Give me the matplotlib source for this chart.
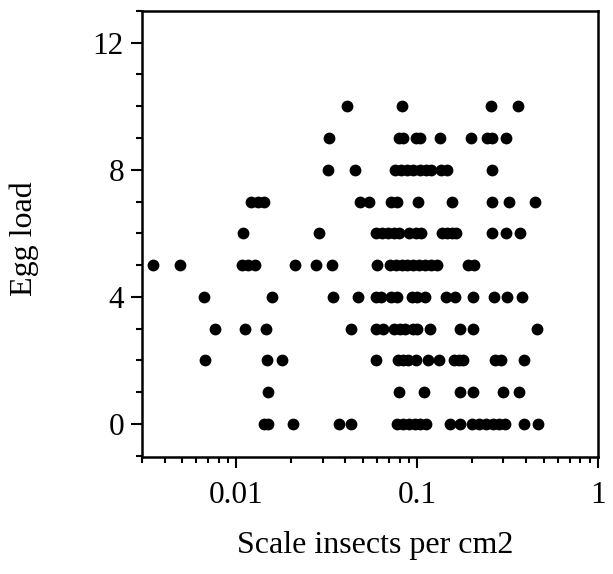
import matplotlib
matplotlib.use("Agg")
import matplotlib.pyplot as plt
from matplotlib.ticker import LogLocator, NullFormatter, MultipleLocator

plt.rcParams['font.family'] = ['Liberation Serif', 'DejaVu Serif']

# scale insect density (x) for each egg load (y)
egg0 = [0.01416, 0.01486, 0.0206, 0.0369, 0.043, 0.0771, 0.0832, 0.0896, 0.0966,
        0.1041, 0.1122, 0.1513, 0.173, 0.2021, 0.22, 0.239, 0.262, 0.2823, 0.304,
        0.3905, 0.465]
egg1 = [0.01486, 0.0791, 0.1094, 0.1714, 0.204, 0.2997, 0.3678]
egg2 = [0.00669, 0.01472, 0.01788, 0.0592, 0.0779, 0.0832, 0.0887, 0.099, 0.115,
        0.132, 0.159, 0.1697, 0.180, 0.2686, 0.292, 0.3905]
egg3 = [0.00758, 0.01114, 0.01451, 0.043, 0.0595, 0.0648, 0.0741, 0.0799, 0.0861,
        0.0942, 0.1, 0.1179, 0.1714, 0.204, 0.460]
egg4 = [0.00659, 0.01563, 0.0342, 0.0469, 0.0589, 0.0632, 0.0716, 0.0771, 0.0933,
        0.1, 0.1105, 0.1439, 0.1615, 0.204, 0.266, 0.312, 0.381]
egg5 = [0.00345, 0.00486, 0.01075, 0.01159, 0.01268, 0.0211, 0.0277, 0.0339, 0.0601,
        0.0705, 0.076, 0.0819, 0.0883, 0.0951, 0.1025, 0.1105, 0.119, 0.1283,
        0.1913, 0.207]
egg6 = [0.01091, 0.0287, 0.0595, 0.0641, 0.0691, 0.0741, 0.0791, 0.0905, 0.098,
        0.1051, 0.137, 0.146, 0.155, 0.1647, 0.258, 0.309, 0.371]
egg7 = [0.01206, 0.01313, 0.01416, 0.048, 0.0544, 0.0716, 0.0771, 0.1015, 0.155,
        0.258, 0.320, 0.447]
egg8 = [0.0322, 0.045, 0.0752, 0.0811, 0.0874, 0.0942, 0.103, 0.1122, 0.1197,
        0.1349, 0.146, 0.258]
egg9 = [0.0327, 0.0791, 0.0832, 0.098, 0.103, 0.1336, 0.199, 0.243, 0.258, 0.309]
egg10 = [0.0409, 0.0819, 0.255, 0.359]

rows = [egg0, egg1, egg2, egg3, egg4, egg5, egg6, egg7, egg8, egg9, egg10]

fig = plt.figure(figsize=(6.13, 5.74), dpi=100)
ax = fig.add_axes([0.2316, 0.204, 0.7439, 0.777])

for load, xs in enumerate(rows):
    ax.plot(xs, [load] * len(xs), 'o', color='black', markersize=8.5,
            markeredgewidth=0)

ax.set_xscale('log')
ax.set_xlim(0.003, 1)
ax.set_ylim(-1.04, 13)

ax.set_xticks([0.01, 0.1, 1])
ax.set_xticklabels(['0.01', '0.1', '1'])
ax.xaxis.set_minor_locator(LogLocator(base=10, subs=range(2, 10)))
ax.xaxis.set_minor_formatter(NullFormatter())
ax.set_yticks([0, 4, 8, 12])
ax.yaxis.set_minor_locator(MultipleLocator(1))

ax.tick_params(which='major', direction='out', length=8, width=1.5,
               labelsize=22.5)
ax.tick_params(axis='x', which='major', pad=9)
ax.tick_params(axis='y', which='major', pad=5)
ax.tick_params(which='minor', direction='out', length=4, width=1.5)

for s in ax.spines.values():
    s.set_linewidth(1.8)

ax.set_xlabel('Scale insects per cm2', fontsize=23)
ax.set_ylabel('Egg load', fontsize=23)
ax.xaxis.set_label_coords(0.511, -0.166)
ax.yaxis.set_label_coords(-0.226, 0.489)

fig.savefig('out.png', dpi=100)
